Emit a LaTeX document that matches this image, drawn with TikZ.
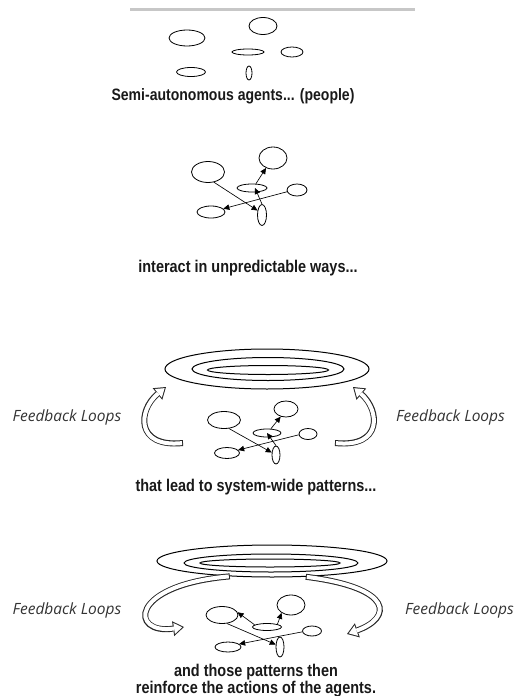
\documentclass[tikz,border=0pt]{standalone}
\usepackage{fontspec}
\setmainfont{Liberation Sans}
\newfontfamily\capfont[FakeStretch=0.85]{Liberation Sans}
\newfontfamily\loopfont{Open Sans}
\usetikzlibrary{arrows.meta,shapes.geometric}

% hollow curved arrow: dark outline drawn first, white core on top
\newcommand\loopArrow[1]{\draw[fbshell] #1; \draw[fbcore] #1;}

\begin{document}
\begin{tikzpicture}[x=1pt,y=-1pt,
  agent/.style 2 args={draw, ellipse, line width=0.8pt, inner sep=0pt,
    minimum width=#1pt, minimum height=#2pt},
  ring/.style 2 args={draw, ellipse, line width=1pt, inner sep=0pt,
    minimum width=#1pt, minimum height=#2pt},
  link/.style={line width=0.65pt, -{Triangle[length=6pt,width=5.5pt]}},
  caption/.style={font=\capfont\bfseries\fontsize{17}{14}\selectfont, text=black!90,
    align=center, inner sep=0pt},
  looplabel/.style={font=\loopfont\itshape\fontsize{15.5}{17}\selectfont,
    text=black!80, inner sep=0pt},
  fbshell/.style={line width=6pt, black!85,
    -{Triangle[length=11pt,width=15pt,line width=0pt]}},
  fbcore/.style={line width=4pt, white, shorten <=1pt, shorten >=1.8pt,
    -{Triangle[length=8.2pt,width=11.2pt,line width=0pt]}}
]
\useasboundingbox (0,0) rectangle (515,696);

% header rule
\draw[line width=3pt, black!22] (130,9) -- (415,9);

% ---------- stage 1: separate agents ----------
\node[agent={36}{16}] (s1a) at (187,38) {};
\node[agent={28}{17}] (s1b) at (263,26) {};
\node[agent={32}{6}]  (s1c) at (248,52) {};
\node[agent={22}{10}] (s1d) at (292,52) {};
\node[agent={29}{9}]  (s1e) at (191,72) {};
\node[agent={6}{14}]  (s1f) at (249,73) {};
\node[caption, font=\capfont\bfseries\fontsize{16.5}{14}\selectfont, anchor=base] (cap1)
  at (233,100) {Semi-autonomous agents... (people)};

% ---------- stage 2: interacting agents ----------
\node[agent={33}{21}] (s2a) at (208,172) {};
\node[agent={28}{22}] (s2b) at (273,158) {};
\node[agent={30}{8}]  (s2c) at (252,188) {};
\node[agent={20}{12}] (s2d) at (297,190) {};
\node[agent={28}{12}] (s2e) at (211,212) {};
\node[agent={9}{21}]  (s2f) at (262,215) {};
\draw[link] (s2a.-60) -- (s2f.135);
\draw[link] (s2d.190) -- (s2e.15);
\draw[link] (s2f.north) -- ([xshift=3pt]s2c.center);
\draw[link] ([xshift=4pt]s2c.north) -- (s2b.235);
\node[caption, anchor=base] (cap2) at (248,272) {interact in unpredictable ways...};

% ---------- stage 3: emerging patterns ----------
\node[ring={204}{40}] (r3o) at (267,369) {};
\node[ring={152}{23}] (r3m) at (268,369) {};
\node[ring={121}{9}]  (r3i) at (268,370) {};

\node[agent={33}{17}] (s3a) at (224,420) {};
\node[agent={24}{16}] (s3b) at (286,409) {};
\node[agent={28}{8}]  (s3c) at (267,433) {};
\node[agent={18}{11}] (s3d) at (308,434) {};
\node[agent={25}{11}] (s3e) at (227,453) {};
\node[agent={8}{18}]  (s3f) at (276,455) {};
\draw[link] (s3a.-60) -- (s3f.150);
\draw[link] (s3d.185) -- (s3e.15);
\draw[link] (s3f.north) -- (s3c.center);
\draw[link] ([xshift=4pt]s3c.north) -- (s3b.235);

\coordinate (f3l) at (183,443);
\coordinate (t3l) at (166,387);
\coordinate (f3r) at (335,443);
\coordinate (t3r) at (353,387);
\loopArrow{(f3l) .. controls (135,448) and (138,410) .. (t3l)}
\loopArrow{(f3r) .. controls (383,448) and (380,410) .. (t3r)}

\node[looplabel] (fb3l) at (67,417) {Feedback Loops};
\node[looplabel, anchor=west] (fb3r) at (396,417) {Feedback Loops};
\node[caption, anchor=base] (cap3) at (256,491) {that lead to system-wide patterns...};

% ---------- stage 4: patterns act back on agents ----------
\node[ring={230}{32}] (r4o) at (272,561) {};
\node[ring={174}{18}] (r4m) at (271,563) {};
\node[ring={140}{8}]  (r4i) at (270,563) {};

\node[agent={32}{17}] (s4a) at (222,615) {};
\node[agent={28}{20}] (s4b) at (291,605) {};
\node[agent={29}{7}]  (s4c) at (267,627) {};
\node[agent={19}{10}] (s4d) at (312,631) {};
\node[agent={26}{10}] (s4e) at (228,647) {};
\node[agent={8}{20}]  (s4f) at (280,647) {};
\draw[link] (s4c.170) -- (s4a.10);
\draw[link] (s4c.15) -- (s4b.220);
\draw[link] (s4a.-60) -- (s4f.150);
\draw[link] (s4d.185) -- (s4e.15);

\coordinate (t4l) at (184,627);
\coordinate (t4r) at (347,634);
\loopArrow{(r4o.200) .. controls (128,585) and (130,635) .. (t4l)}
\loopArrow{(r4o.-25) .. controls (395,588) and (392,618) .. (t4r)}

\node[looplabel] (fb4l) at (67,610) {Feedback Loops};
\node[looplabel, anchor=west] (fb4r) at (405,610) {Feedback Loops};
\node[caption] (cap4) at (256,681) {and those patterns then\\reinforce the actions of the agents.};
\end{tikzpicture}
\end{document}
